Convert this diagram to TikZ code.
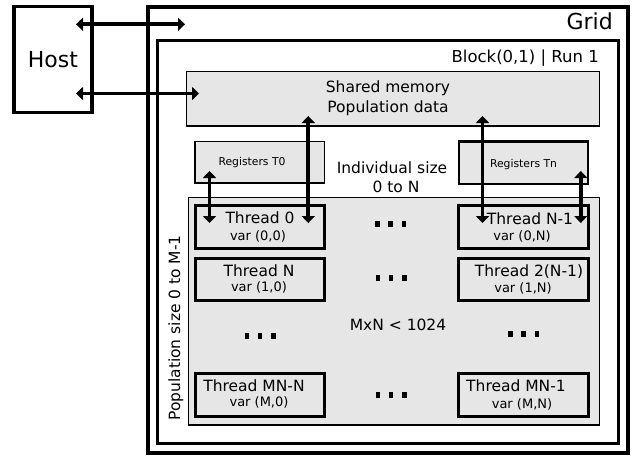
\documentclass[tikz,border=0pt]{standalone}
\usepackage{fontspec}
\setmainfont{DejaVu Sans}
\usetikzlibrary{arrows.meta}
\definecolor{panel}{HTML}{E6E6E6}

\tikzset{
  box/.style={draw, inner sep=0pt, outer sep=0pt, line width=#1},
  shaded/.style={box=#1, fill=panel},
  bigfont/.style={font=\fontsize{22}{26}\selectfont},
  blockfont/.style={font=\fontsize{16.5}{20}\selectfont},
  mainfont/.style={font=\fontsize{15.5}{18}\selectfont},
  varfont/.style={font=\fontsize{13}{15}\selectfont},
  regfont/.style={font=\fontsize{10.8}{13}\selectfont},
  txt/.style={inner sep=0pt, anchor=base},
  link/.style={line width=3.8pt,
    {Triangle[length=7pt,width=13pt]}-{Triangle[length=7pt,width=13pt]}},
  ellipsisrow/.pic={
    \fill (-15.5,-2.75) rectangle ++(4.5,5.5);
    \fill (-2.25,-2.75) rectangle ++(4.5,5.5);
    \fill (11,-2.75) rectangle ++(4.5,5.5);
  }
}

\begin{document}
\begin{tikzpicture}[x=1pt, y=-1pt]
  \useasboundingbox (0,0) rectangle (636,458);

  % outer frames
  \node[box=3.5pt, minimum width=78pt, minimum height=106pt, bigfont] (host) at (53,59.5) {Host};
  \node[box=4pt, minimum width=479.5pt, minimum height=446pt] (grid) at (387.75,229.5) {};
  \node[box=3pt, minimum width=461pt, minimum height=403.5pt] (block) at (388,241.75) {};
  \node[txt, anchor=base east, bigfont] (gridlbl) at (613,29) {Grid};
  \node[txt, anchor=base east, blockfont] (blocklbl) at (599,62) {Block(0,1) | Run 1};

  % shared memory
  \node[shaded=1.5pt, minimum width=413pt, minimum height=54.5pt] (shared) at (393,98.75) {};
  \node[txt, mainfont] (sharedA) at (388,92) {Shared memory};
  \node[txt, mainfont] (sharedB) at (388,112) {Population data};

  % registers
  \node[shaded=1.5pt, minimum width=129.5pt, minimum height=41.5pt] (regA) at (259.75,162.25) {};
  \node[txt, regfont] (regAlbl) at (252,165) {Registers T0};
  \node[shaded=2.5pt, minimum width=129pt, minimum height=42.5pt] (regB) at (523.5,162.75) {};
  \node[txt, regfont] (regBlbl) at (523.5,167) {Registers Tn};
  \node[txt, mainfont] (indA) at (392,173) {Individual size};
  \node[txt, mainfont] (indB) at (396,192) {0 to N};

  % thread area
  \node[shaded=1.5pt, minimum width=411pt, minimum height=227.5pt] (area) at (394,311.25) {};

  \node[shaded=3pt, minimum width=129.5pt, minimum height=43.5pt] (t00) at (259.75,226.75) {};
  \node[shaded=3pt, minimum width=129.5pt, minimum height=42.5pt] (t10) at (259.75,279.25) {};
  \node[shaded=3pt, minimum width=129.5pt, minimum height=43pt] (tm0) at (259.75,394.5) {};
  \node[shaded=3pt, minimum width=129.5pt, minimum height=43.5pt] (t0n) at (523.25,226.75) {};
  \node[shaded=3pt, minimum width=129.5pt, minimum height=42.5pt] (t1n) at (523.25,279.25) {};
  \node[shaded=3pt, minimum width=129.5pt, minimum height=43pt] (tmn) at (523.25,394.5) {};

  \node[txt, mainfont] (t00a) at (260,223) {Thread 0};
  \node[txt, varfont]  (t00b) at (258,240) {var (0,0)};
  \node[txt, mainfont] (t10a) at (259,276) {Thread N};
  \node[txt, varfont]  (t10b) at (259,291) {var (1,0)};
  \node[txt, mainfont] (tm0a) at (254,391) {Thread MN-N};
  \node[txt, varfont]  (tm0b) at (259,406) {var (M,0)};
  \node[txt, mainfont] (t0na) at (530,224) {Thread N-1};
  \node[txt, varfont]  (t0nb) at (522,240) {var (0,N)};
  \node[txt, mainfont] (t1na) at (529,276) {Thread 2(N-1)};
  \node[txt, varfont]  (t1nb) at (523,292) {var (1,N)};
  \node[txt, mainfont] (tmna) at (516,391) {Thread MN-1};
  \node[txt, varfont]  (tmnb) at (522,408) {var (M,N)};

  \node[txt, mainfont] (limit) at (398,330) {MxN < 1024};
  \node[txt, mainfont, rotate=90] (poplbl) at (180,328) {Population size 0 to M-1};

  % ellipses between threads
  \pic at (390.5,224) {ellipsisrow};
  \pic at (391,278) {ellipsisrow};
  \pic at (260,336) {ellipsisrow};
  \pic at (523.5,334) {ellipsisrow};
  \pic at (391,395) {ellipsisrow};

  % connector end points
  \coordinate (hostA) at (76,24.3);
  \coordinate (gridA) at (185,24.3);
  \coordinate (hostB) at (76,93.5);
  \coordinate (sharedIn) at (199,93.5);
  \coordinate (sharedL) at (308.3,116);
  \coordinate (sharedR) at (482.5,116);
  \coordinate (regAout) at (209.5,171);
  \coordinate (regBout) at (580.8,171);
  \coordinate (t00L) at (209.5,223);
  \coordinate (t00R) at (308.3,223);
  \coordinate (t0nL) at (482.5,223);
  \coordinate (t0nR) at (580.8,223);

  % data transfers
  \draw[link] (hostA) -- (gridA);
  \draw[link] (hostB) -- (sharedIn);
  \draw[link] (sharedL) -- (t00R);
  \draw[link] (regAout) -- (t00L);
  \draw[link] (sharedR) -- (t0nL);
  \draw[link] (regBout) -- (t0nR);
\end{tikzpicture}
\end{document}
